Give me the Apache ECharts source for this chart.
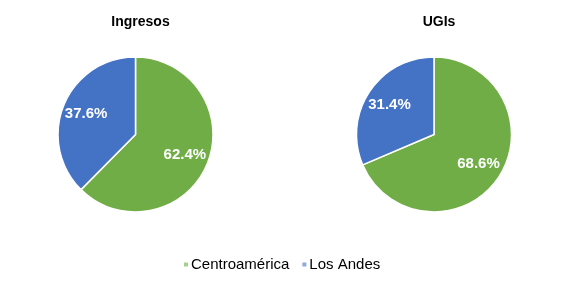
<!DOCTYPE html>
<html><head><meta charset="utf-8">
<script src="https://cdn.jsdelivr.net/npm/echarts@6/dist/echarts.min.js"></script>
<style>html,body{margin:0;padding:0;background:#fff}#c{width:580px;height:289px}</style>
</head><body><div id="c"></div>
<script>
const categories = ['Centroamérica', 'Los Andes'];
const chartTitles = ['Ingresos', 'UGIs'];
const ingresos = [62.4, 37.6];
const ugis = [68.6, 31.4];
const colors = ['#70AD47', '#4472C4'];
const legendColors = ['#A3D28B', '#8FAADC'];

const chart = echarts.init(document.getElementById('c'), null, {renderer: 'canvas'});
const centers = [[135.5, 134.5], [434, 134.5]];
const R = 77.5;
const datasets = [ingresos, ugis];
const series = [];
datasets.forEach((vals, i) => {
  series.push({
    type: 'pie', name: chartTitles[i], center: centers[i], radius: [0, R],
    startAngle: 90, clockwise: true, silent: true, animation: false,
    label: {show: false}, labelLine: {show: false},
    itemStyle: {borderColor: '#fff', borderWidth: 1.5},
    data: categories.map((c, j) => ({name: c, value: vals[j], itemStyle: {color: colors[j]}}))
  });
  series.push({
    type: 'pie', center: centers[i], radius: [R * 0.3, R],
    startAngle: 90, clockwise: true, silent: true, animation: false,
    legendHoverLink: false,
    itemStyle: {color: 'rgba(0,0,0,0)', borderWidth: 0},
    label: {show: true, position: 'inside', color: '#fff', fontFamily: '"Liberation Sans Narrow", "Arial Narrow", "Liberation Sans", sans-serif',
      fontWeight: 'bold', fontSize: 15, formatter: p => p.value.toFixed(1) + '%'},
    labelLine: {show: false},
    data: categories.map((c, j) => ({name: c + ' ', value: vals[j]}))
  });
});

chart.setOption({
  animation: false,
  title: chartTitles.map((t, i) => ({
    text: t, left: centers[i][0], top: 10, textAlign: 'center',
    textStyle: {fontFamily: 'Liberation Sans, Arial, sans-serif', fontWeight: 'bold', fontSize: 14, color: '#000'}
  })),
  legend: {
    data: categories.map((c, j) => ({name: c, itemStyle: {color: legendColors[j]}})),
    icon: 'rect', itemWidth: 6, itemHeight: 6, itemGap: 11, padding: 0,
    left: 182, top: 257,
    textStyle: {fontFamily: 'Liberation Sans, Arial, sans-serif', fontSize: 15, color: '#000', padding: [0, 0, 0, -3]}
  },
  series: series
});
</script></body></html>
